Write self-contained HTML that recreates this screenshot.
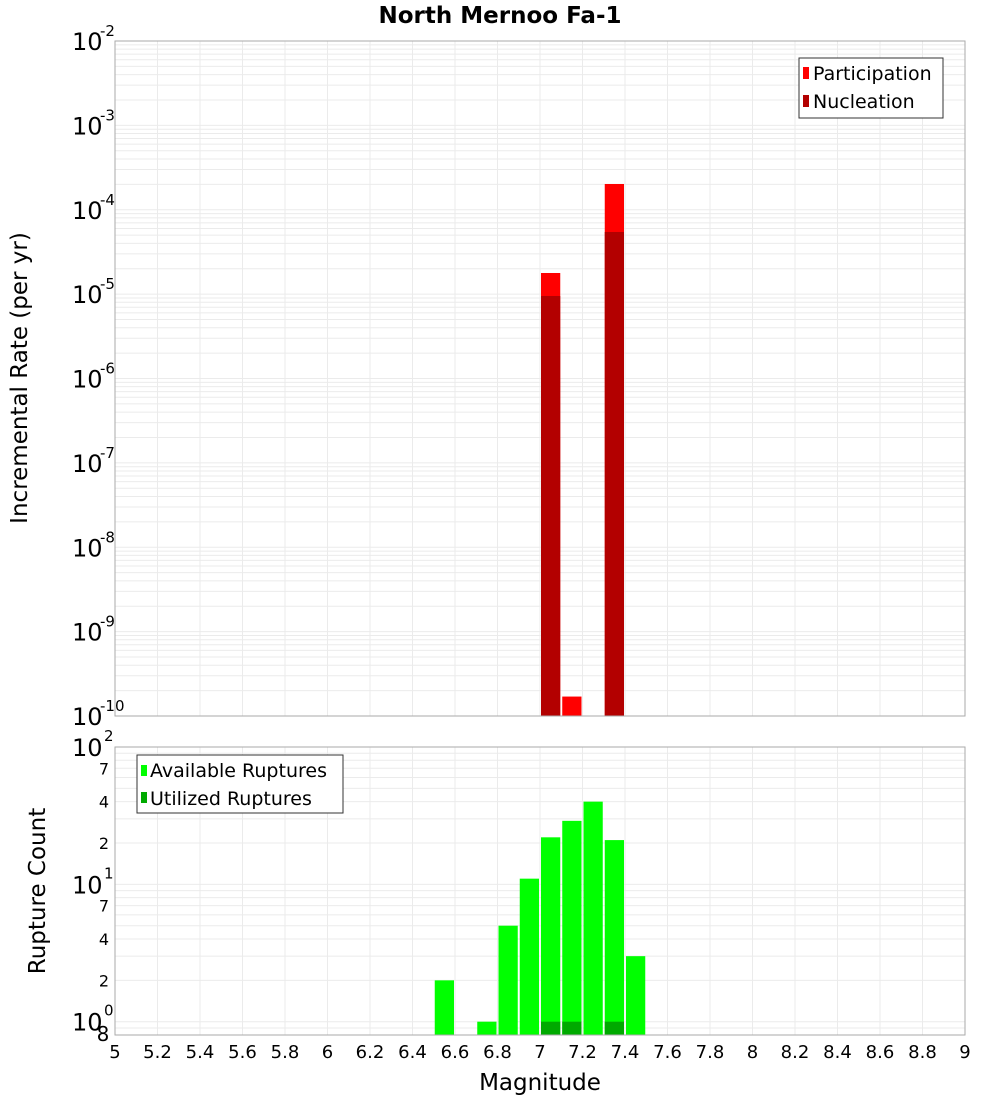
<!DOCTYPE html>
<html><head><meta charset="utf-8"><style>
body{margin:0;background:#fff;font-family:"Liberation Sans","DejaVu Sans",sans-serif}
svg text{font-family:"DejaVu Sans","Liberation Sans",sans-serif}
</style></head><body>
<svg id="c" width="1000" height="1100" xmlns="http://www.w3.org/2000/svg"></svg>
<script>
const topMags=[7.05,7.15,7.35];
const participation=[1.78e-5,1.7e-10,2.02e-4];
const nucleation=[9.5e-6,0,5.45e-5];
const botMags=[6.55,6.75,6.85,6.95,7.05,7.15,7.25,7.35,7.45];
const available=[2,1,5,11,22,29,40,21,3];
const utilMags=[7.05,7.15,7.35];
const utilized=[1,1,1];
const xTicks=["5","5.2","5.4","5.6","5.8","6","6.2","6.4","6.6","6.8","7","7.2","7.4","7.6","7.8","8","8.2","8.4","8.6","8.8","9"];

const NS="http://www.w3.org/2000/svg";
const svg=document.getElementById('c');
function mk(t,a,p){const e=document.createElementNS(NS,t);for(const k in a)e.setAttribute(k,a[k]);(p||svg).appendChild(e);return e;}
const X0=115,X1=965;
const xs=m=>X0+(m-5)/4*(X1-X0);
const T0=41,T1=716;
const yT=v=>T1-(Math.log10(v)+10)/8*(T1-T0);
const B0=747,B1=1035,bMin=Math.log10(0.8),bMax=2;
const yB=v=>B1-(Math.log10(v)-bMin)/(bMax-bMin)*(B1-B0);
const bw=(X1-X0)/40;

let t=mk('text',{x:500,y:23,'text-anchor':'middle','font-size':23,'font-weight':'bold'});t.textContent='North Mernoo Fa-1';


const gt=mk('g',{});
for(let d=-10;d<-2;d++)for(let k=1;k<10;k++){const y=yT(k*Math.pow(10,d));mk('line',{x1:X0,x2:X1,y1:y,y2:y,stroke:'#ebebeb'},gt);}
for(let i=0;i<xTicks.length;i++){const x=xs(+xTicks[i]);mk('line',{x1:x,x2:x,y1:T0,y2:T1,stroke:'#ebebeb'},gt);mk('line',{x1:x,x2:x,y1:B0,y2:B1,stroke:'#ebebeb'},gt);}
const gb=mk('g',{});
for(let d=-1;d<2;d++)for(let k=1;k<10;k++){const v=k*Math.pow(10,d);if(v<0.8||v>100)continue;const y=yB(v);mk('line',{x1:X0,x2:X1,y1:y,y2:y,stroke:'#ebebeb'},gb);}

for(let i=0;i<topMags.length;i++){
 const x=xs(topMags[i]-0.05)+1;
 if(participation[i]>0){const r=mk('rect',{x:x,y:yT(participation[i]),width:bw-2,height:T1-yT(participation[i]),fill:'#ff0000'});
 }
 if(nucleation[i]>0){const r=mk('rect',{x:x,y:yT(nucleation[i]),width:bw-2,height:T1-yT(nucleation[i]),fill:'#b30000'});
 }
}
for(let i=0;i<botMags.length;i++){
 const x=xs(botMags[i]-0.05)+1;
 const r=mk('rect',{x:x,y:yB(available[i]),width:bw-2,height:B1-yB(available[i]),fill:'#00ff00'});
 
}
for(let i=0;i<utilMags.length;i++){
 const x=xs(utilMags[i]-0.05)+1;
 const r=mk('rect',{x:x,y:yB(utilized[i]),width:bw-2,height:B1-yB(utilized[i]),fill:'#00aa00'});
 
}
let f=mk('rect',{x:X0,y:T0,width:X1-X0,height:T1-T0,fill:'none',stroke:'#aaa'});
f=mk('rect',{x:X0,y:B0,width:X1-X0,height:B1-B0,fill:'none',stroke:'#aaa'});

for(let d=-10;d<=-2;d++){
 const y=yT(Math.pow(10,d));
 const tx=mk('text',{x:72,y:y+9,'font-size':24});tx.textContent='10';
 
 const s=mk('text',{x:100,y:y-5,'font-size':15});s.textContent=String(d);
 
}
[[1,'0'],[10,'1'],[100,'2']].forEach(([v,e])=>{
 const y=yB(v);
 const tx=mk('text',{x:72,y:y+9,'font-size':24});tx.textContent='10';
 
 const s=mk('text',{x:104,y:y-6,'font-size':15});s.textContent=e;
 
});
[2,4,7,20,40,70,0.8].forEach(v=>{
 const y=yB(v);const lbl=String(v<1?8:(v>=10?v/10:v));
 const tx=mk('text',{x:v<1?103:104,y:y+6,'font-size':v<1?20:16,'text-anchor':'middle'});tx.textContent=lbl;
 
});
for(let i=0;i<xTicks.length;i++){
 const tx=mk('text',{x:xs(+xTicks[i]),y:1058,'font-size':18,'text-anchor':'middle'});tx.textContent=xTicks[i];
 
}
t=mk('text',{x:540,y:1090,'font-size':23,'text-anchor':'middle'});t.textContent='Magnitude';

t=mk('text',{x:27,y:378,'font-size':23,'text-anchor':'middle',transform:'rotate(-90 27 378)'});t.textContent='Incremental Rate (per yr)';

t=mk('text',{x:45,y:891,'font-size':23,'text-anchor':'middle',transform:'rotate(-90 45 891)'});t.textContent='Rupture Count';


let lg=mk('g',{});
mk('rect',{x:799,y:58,width:144,height:60,fill:'#fff',stroke:'#333'},lg);
mk('rect',{x:803,y:67,width:6,height:12,fill:'#ff0000'},lg);
mk('rect',{x:803,y:95,width:6,height:12,fill:'#b30000'},lg);
t=mk('text',{x:813,y:80,'font-size':19},lg);t.textContent='Participation';

t=mk('text',{x:813,y:108,'font-size':19},lg);t.textContent='Nucleation';

lg=mk('g',{});
mk('rect',{x:137,y:755,width:206,height:58,fill:'#fff',stroke:'#333'},lg);
mk('rect',{x:141,y:765,width:6,height:11,fill:'#00ff00'},lg);
mk('rect',{x:141,y:792,width:6,height:11,fill:'#00aa00'},lg);
t=mk('text',{x:150,y:777,'font-size':19},lg);t.textContent='Available Ruptures';

t=mk('text',{x:150,y:805,'font-size':19},lg);t.textContent='Utilized Ruptures';

</script>
</body></html>
